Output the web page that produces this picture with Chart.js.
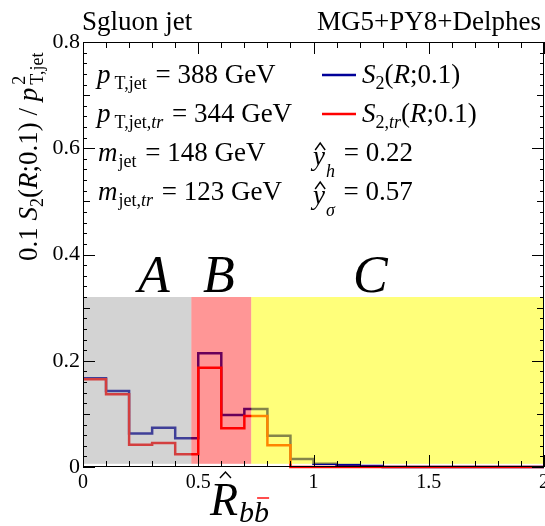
<!DOCTYPE html>
<html>
<head>
<meta charset="utf-8">
<script src="https://cdn.jsdelivr.net/npm/chart.js@4.4.1/dist/chart.umd.min.js"></script>
<style>
  html, body { margin: 0; padding: 0; background: #fff; }
  canvas { display: block; }
</style>
</head>
<body>
<canvas id="c" width="545" height="526"></canvas>
<script>
// Histogram binning (R_bb) and the two S2 profiles
const binEdges = [0.0, 0.1, 0.2, 0.3, 0.4, 0.5, 0.6, 0.7, 0.8, 0.9, 1.0,
                  1.1, 1.2, 1.3, 1.4, 1.5, 1.6, 1.7, 1.8, 1.9, 2.0];
const s2Values   = [0.167, 0.143, 0.063, 0.074, 0.054, 0.214, 0.098, 0.109, 0.059, 0.015,
                    0.006, 0.004, 0.002, 0, 0, 0, 0, 0, 0, 0];
const s2TrValues = [0.165, 0.137, 0.042, 0.045, 0.024, 0.187, 0.073, 0.096, 0.041, 0,
                    0, 0, 0, 0, 0, 0, 0, 0, 0, 0];

// Axis tick labels
const xTickValues = [0, 0.5, 1, 1.5, 2];
const yTickValues = [0, 0.2, 0.4, 0.6, 0.8];

// Shaded regions A / B / C
const regionNames = ['A', 'B', 'C'];
const regionLow   = [0.0, 0.47, 0.73];
const regionHigh  = [0.47, 0.73, 2.0];
const regionTop   = 0.32;

// Jet summary numbers
const ptJet = 388, ptJetTr = 344, mJet = 148, mJetTr = 123;
const yHatH = 0.22, yHatSigma = 0.57;

const SERIF = '"Liberation Serif", "Times New Roman", serif';
const BLUE = '#000099';
const RED = '#ff0000';

function toSteps(values) {
  const pts = values.map((v, i) => ({ x: binEdges[i], y: v }));
  pts.push({ x: binEdges[values.length], y: values[values.length - 1] });
  return pts;
}

function setFont(ctx, size, italic) {
  ctx.font = (italic ? 'italic ' : '') + size + 'px ' + SERIF;
}

function drawHat(ctx, cx, yBottom, w, h) {
  ctx.save();
  ctx.lineWidth = 1.4;
  ctx.strokeStyle = '#000';
  ctx.beginPath();
  ctx.moveTo(cx - w / 2, yBottom);
  ctx.lineTo(cx, yBottom - h);
  ctx.lineTo(cx + w / 2, yBottom);
  ctx.stroke();
  ctx.restore();
}

// Draws a run of text pieces; each piece may be italic, resized, shifted,
// or left without advancing the pen (for stacked super/subscripts).
function drawRich(ctx, x, y, parts) {
  let cx = x;
  for (const p of parts) {
    const size = p.s || 27;
    setFont(ctx, size, p.i);
    const w = ctx.measureText(p.t).width;
    const px = cx + (p.dx || 0);
    const py = y + (p.dy || 0);
    ctx.fillText(p.t, px, py);
    if (p.hat) drawHat(ctx, px + w * p.hat.fx, y + p.hat.yb, p.hat.w, p.hat.h);
    if (p.bar) {
      ctx.save();
      ctx.lineWidth = 1.4;
      ctx.beginPath();
      ctx.moveTo(px + w * 0.2, y + p.bar);
      ctx.lineTo(px + w * 1.0, y + p.bar);
      ctx.stroke();
      ctx.restore();
    }
    if (!p.keep) cx = px + w;
  }
  return cx;
}

const decorPlugin = {
  id: 'decor',
  afterDatasetsDraw(chart) {
    const { ctx, scales: { x, y } } = chart;
    const fills = ['rgba(150,150,150,0.42)', 'rgba(255,0,0,0.41)', 'rgba(255,255,0,0.52)'];
    ctx.save();
    regionNames.forEach((name, i) => {
      const x0 = x.getPixelForValue(regionLow[i]);
      const x1 = x.getPixelForValue(regionHigh[i]);
      const y0 = y.getPixelForValue(0.006);
      const y1 = y.getPixelForValue(regionTop);
      ctx.fillStyle = fills[i];
      ctx.fillRect(x0, y1, x1 - x0, y0 - y1);
    });
    ctx.restore();
  },
  afterDraw(chart) {
    const { ctx, chartArea: a, scales: { x, y } } = chart;
    ctx.save();
    ctx.strokeStyle = '#000';
    ctx.fillStyle = '#000';
    ctx.lineWidth = 1;

    // frame
    ctx.strokeRect(Math.round(a.left) + 0.5, Math.round(a.top) + 0.5,
                   Math.round(a.right - a.left) - 1, Math.round(a.bottom - a.top) - 1);

    // inward ticks on all four sides
    ctx.beginPath();
    for (let k = 0; k <= 20; k++) {
      const px = Math.round(x.getPixelForValue(k * 0.1)) + 0.5;
      const len = (k % 5 === 0) ? 12 : 6;
      ctx.moveTo(px, a.bottom); ctx.lineTo(px, a.bottom - len);
      ctx.moveTo(px, a.top);    ctx.lineTo(px, a.top + len);
    }
    for (let k = 0; k <= 40; k++) {
      const py = Math.round(y.getPixelForValue(k * 0.02)) + 0.5;
      const len = (k % 10 === 0) ? 12 : (k % 5 === 0 ? 7 : 4);
      ctx.moveTo(a.left, py);  ctx.lineTo(a.left + len, py);
      ctx.moveTo(a.right, py); ctx.lineTo(a.right - len, py);
    }
    ctx.stroke();

    ctx.textBaseline = 'alphabetic';
    ctx.textAlign = 'left';

    // header
    setFont(ctx, 27, false);
    ctx.fillText('Sgluon jet', 82, 30);
    ctx.textAlign = 'right';
    ctx.fillText('MG5+PY8+Delphes', 541, 30);
    ctx.textAlign = 'left';

    // region letters
    setFont(ctx, 52, true);
    const letterX = [138, 203, 353];
    regionNames.forEach((n, i) => ctx.fillText(n, letterX[i], 292));

    // jet kinematics
    const L = [83, 122, 161, 200];
    const eqX = 97;
    drawRich(ctx, eqX, L[0], [
      { t: 'p', i: true },
      { t: 'T,jet', s: 18, dx: 4, dy: 6 },
      { t: ' = ' + ptJet + ' GeV', dx: 2 }
    ]);
    drawRich(ctx, eqX, L[1], [
      { t: 'p', i: true },
      { t: 'T,jet,', s: 18, dx: 4, dy: 6 },
      { t: 'tr', s: 18, i: true, dy: 6 },
      { t: ' = ' + ptJetTr + ' GeV', dx: 2 }
    ]);
    drawRich(ctx, eqX + 1, L[2], [
      { t: 'm', i: true },
      { t: 'jet', s: 18, dx: 1, dy: 6 },
      { t: ' = ' + mJet + ' GeV', dx: 2 }
    ]);
    drawRich(ctx, eqX + 1, L[3], [
      { t: 'm', i: true },
      { t: 'jet,', s: 18, dx: 1, dy: 6 },
      { t: 'tr', s: 18, i: true, dy: 6 },
      { t: ' = ' + mJetTr + ' GeV', dx: 2 }
    ]);

    // legend
    const lx0 = 322, lx1 = 356, tx = 362;
    ctx.lineWidth = 2.5;
    ctx.strokeStyle = BLUE;
    ctx.beginPath(); ctx.moveTo(lx0, L[0] - 8); ctx.lineTo(lx1, L[0] - 8); ctx.stroke();
    ctx.strokeStyle = RED;
    ctx.beginPath(); ctx.moveTo(lx0, L[1] - 8); ctx.lineTo(lx1, L[1] - 8); ctx.stroke();
    drawRich(ctx, tx, L[0], [
      { t: 'S', i: true },
      { t: '2', s: 18, dy: 6 },
      { t: '(' },
      { t: 'R', i: true },
      { t: ';0.1)' }
    ]);
    drawRich(ctx, tx, L[1], [
      { t: 'S', i: true },
      { t: '2,', s: 18, dy: 6 },
      { t: 'tr', s: 18, i: true, dy: 6 },
      { t: '(' },
      { t: 'R', i: true },
      { t: ';0.1)' }
    ]);
    drawRich(ctx, 313, L[2], [
      { t: 'y', i: true, dy: 4, hat: { fx: 0.6, yb: -11, w: 10, h: 7 } },
      { t: 'h', s: 18, i: true, dx: 1, dy: 16 },
      { t: ' = ' + yHatH.toFixed(2), dx: 2 }
    ]);
    drawRich(ctx, 313, L[3], [
      { t: 'y', i: true, dy: 4, hat: { fx: 0.6, yb: -11, w: 10, h: 7 } },
      { t: 'σ', s: 18, i: true, dx: 1, dy: 16 },
      { t: ' = ' + yHatSigma.toFixed(2), dx: 2 }
    ]);

    // x-axis title
    drawRich(ctx, 210, 515, [
      { t: 'R', s: 46, i: true, hat: { fx: 0.55, yb: -37, w: 11, h: 6 } },
      { t: 'b', s: 30, i: true, dx: 1, dy: 7 },
      { t: 'b', s: 30, i: true, dy: 7, bar: -17 }
    ]);

    // y-axis title (rotated)
    ctx.save();
    ctx.translate(37, 261);
    ctx.rotate(-Math.PI / 2);
    drawRich(ctx, 0, 0, [
      { t: '0.1 ' },
      { t: 'S', i: true },
      { t: '2', s: 18, dy: 6 },
      { t: '(' },
      { t: 'R', i: true },
      { t: ';0.1) / ' },
      { t: 'p', i: true },
      { t: '2', s: 18, dx: 3, dy: -12, keep: true },
      { t: 'T,jet', s: 18, dx: 3, dy: 6 }
    ]);
    ctx.restore();

    ctx.restore();
  }
};

const chart = new Chart(document.getElementById('c').getContext('2d'), {
  type: 'line',
  data: {
    datasets: [
      {
        label: 'S2,tr(R;0.1)',
        data: toSteps(s2TrValues),
        borderColor: RED,
        borderWidth: 2.5,
        stepped: 'before',
        pointRadius: 0,
        fill: false,
        clip: false,
        order: 0
      },
      {
        label: 'S2(R;0.1)',
        data: toSteps(s2Values),
        borderColor: BLUE,
        borderWidth: 2.5,
        stepped: 'before',
        pointRadius: 0,
        fill: false,
        clip: false,
        order: 1
      }
    ]
  },
  options: {
    responsive: false,
    animation: false,
    events: [],
    layout: { padding: { top: 42, right: 1, left: 0, bottom: 0 } },
    plugins: { legend: { display: false }, tooltip: { enabled: false }, title: { display: false } },
    scales: {
      x: {
        type: 'linear',
        min: 0, max: 2,
        grid: { display: false, drawTicks: false },
        border: { display: false },
        afterBuildTicks: s => { s.ticks = xTickValues.map(v => ({ value: v })); },
        ticks: {
          color: '#000',
          padding: 4,
          maxRotation: 0,
          autoSkip: false,
          font: { family: SERIF, size: 20 },
          callback: v => String(v)
        },
        afterFit: s => { s.height = 59; s.paddingLeft = 0; s.paddingRight = 0; }
      },
      y: {
        type: 'linear',
        min: 0, max: 0.8,
        grid: { display: false, drawTicks: false },
        border: { display: false },
        afterBuildTicks: s => { s.ticks = yTickValues.map(v => ({ value: v })); },
        ticks: {
          color: '#000',
          padding: 3,
          autoSkip: false,
          font: { family: SERIF, size: 22 },
          callback: v => String(v)
        },
        afterFit: s => { s.width = 83; s.paddingTop = 0; s.paddingBottom = 0; }
      }
    }
  },
  plugins: [decorPlugin]
});
</script>
</body>
</html>
